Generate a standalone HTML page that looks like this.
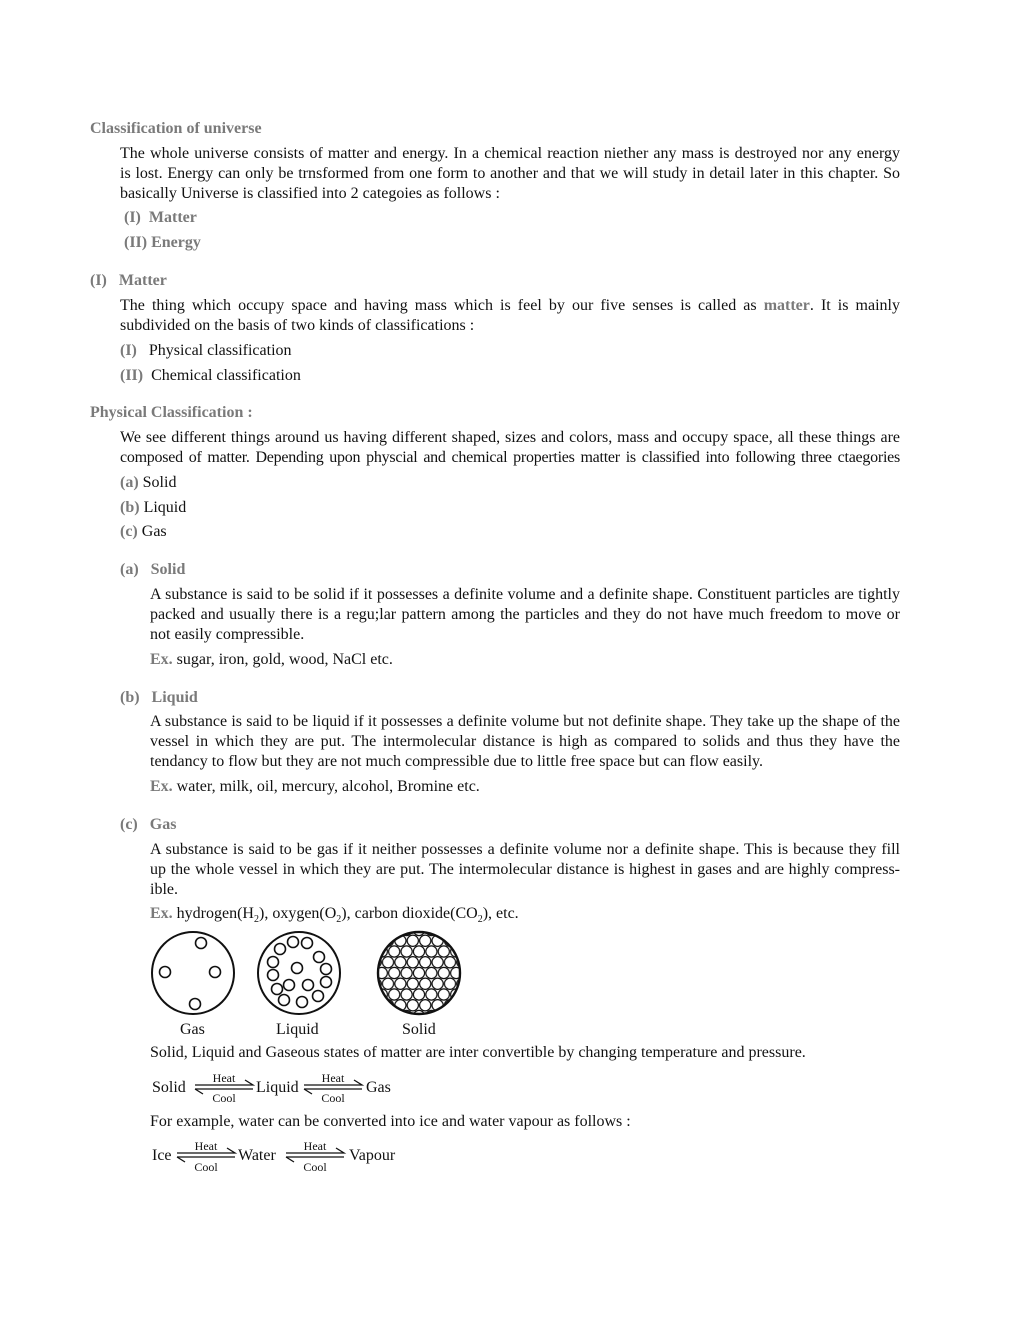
<!DOCTYPE html>
<html><head><meta charset="utf-8">
<style>
html,body{margin:0;padding:0;background:#fff;}
body{width:1020px;height:1320px;position:relative;font-family:"Liberation Serif",serif;font-size:16px;color:#111;}
.l{position:absolute;white-space:nowrap;line-height:20px;margin-top:2px;}
.jj{position:absolute;line-height:20px;text-align:justify;text-align-last:justify;margin-top:2px;}
.g{color:#7a7a7a;font-weight:bold;}
sub{font-size:10px;line-height:0;}
</style></head><body>
<div class="l g" style="left:90px;top:117px">Classification of universe</div>
<div class="jj" style="left:120px;top:142px;width:780px">The whole universe consists of matter and energy. In a chemical reaction niether any mass is destroyed nor any energy</div>
<div class="jj" style="left:120px;top:162px;width:780px">is lost. Energy can only be trnsformed from one form to another and that we will study in detail later in this chapter. So</div>
<div class="l" style="left:120px;top:182px">basically Universe is classified into 2 categoies as follows :</div>
<div class="l g" style="left:124px;top:206px">(I)&nbsp; Matter</div>
<div class="l g" style="left:124px;top:231px">(II) Energy</div>

<div class="l g" style="left:90px;top:269px">(I)&nbsp;&nbsp; Matter</div>
<div class="jj" style="left:120px;top:294px;width:780px">The thing which occupy space and having mass which is feel by our five senses is called as <span class="g">matter</span>. It is mainly</div>
<div class="l" style="left:120px;top:314px">subdivided on the basis of two kinds of classifications :</div>
<div class="l" style="left:120px;top:339px"><span class="g">(I)</span>&nbsp;&nbsp; Physical classification</div>
<div class="l" style="left:120px;top:364px"><span class="g">(II)</span>&nbsp; Chemical classification</div>

<div class="l g" style="left:90px;top:401px">Physical Classification :</div>
<div class="jj" style="left:120px;top:426px;width:780px">We see different things around us having different shaped, sizes and colors, mass and occupy space, all these things are</div>
<div class="jj" style="left:120px;top:446px;width:780px;letter-spacing:-0.25px">composed of matter. Depending upon physcial and chemical properties matter is classified into following three ctaegories</div>
<div class="l" style="left:120px;top:471px"><span class="g">(a)</span> Solid</div>
<div class="l" style="left:120px;top:496px"><span class="g">(b)</span> Liquid</div>
<div class="l" style="left:120px;top:520px"><span class="g">(c)</span> Gas</div>

<div class="l g" style="left:120px;top:558px">(a)&nbsp;&nbsp; Solid</div>
<div class="jj" style="left:150px;top:583px;width:750px">A substance is said to be solid if it possesses a definite volume and a definite shape. Constituent particles are tightly</div>
<div class="jj" style="left:150px;top:603px;width:750px">packed and usually there is a regu;lar pattern among the particles and they do not have much freedom to move or</div>
<div class="l" style="left:150px;top:623px">not easily compressible.</div>
<div class="l" style="left:150px;top:648px"><span class="g">Ex.</span> sugar, iron, gold, wood, NaCl etc.</div>

<div class="l g" style="left:120px;top:686px">(b)&nbsp;&nbsp; Liquid</div>
<div class="jj" style="left:150px;top:710px;width:750px">A substance is said to be liquid if it possesses a definite volume but not definite shape. They take up the shape of the</div>
<div class="jj" style="left:150px;top:730px;width:750px">vessel in which they are put. The intermolecular distance is high as compared to solids and thus they have the</div>
<div class="l" style="left:150px;top:750px">tendancy to flow but they are not much compressible due to little free space but can flow easily.</div>
<div class="l" style="left:150px;top:775px"><span class="g">Ex.</span> water, milk, oil, mercury, alcohol, Bromine etc.</div>

<div class="l g" style="left:120px;top:813px">(c)&nbsp;&nbsp; Gas</div>
<div class="jj" style="left:150px;top:838px;width:750px">A substance is said to be gas if it neither possesses a definite volume nor a definite shape. This is because they fill</div>
<div class="jj" style="left:150px;top:858px;width:750px">up the whole vessel in which they are put. The intermolecular distance is highest in gases and are highly compress-</div>
<div class="l" style="left:150px;top:878px">ible.</div>
<div class="l" style="left:150px;top:902px"><span class="g">Ex.</span> hydrogen(H<sub>2</sub>), oxygen(O<sub>2</sub>), carbon dioxide(CO<sub>2</sub>), etc.</div>

<svg style="position:absolute;left:0;top:0" width="1020" height="1320">
<defs>
<pattern id="hex" x="419" y="973" width="12.4" height="21.5" patternUnits="userSpaceOnUse">
<circle cx="0" cy="0" r="5.6" fill="#fff" stroke="#111" stroke-width="1.2"/>
<circle cx="12.4" cy="0" r="5.6" fill="#fff" stroke="#111" stroke-width="1.2"/>
<circle cx="0" cy="21.5" r="5.6" fill="#fff" stroke="#111" stroke-width="1.2"/>
<circle cx="12.4" cy="21.5" r="5.6" fill="#fff" stroke="#111" stroke-width="1.2"/>
<circle cx="6.2" cy="10.75" r="5.6" fill="#fff" stroke="#111" stroke-width="1.2"/>
</pattern>
<clipPath id="cp"><circle cx="419" cy="973" r="40"/></clipPath>
</defs>
<g fill="none" stroke="#111" stroke-width="2">
<circle cx="193" cy="973" r="41"/>
<circle cx="299" cy="973" r="41"/>
</g>
<g fill="none" stroke="#111" stroke-width="1.6">
<circle cx="201" cy="943" r="5.5"/><circle cx="165" cy="972" r="5.5"/><circle cx="215" cy="972" r="5.5"/><circle cx="195" cy="1004" r="5.5"/>
<circle cx="293" cy="942" r="5.5"/><circle cx="307" cy="943" r="5.5"/><circle cx="280" cy="949" r="5.5"/><circle cx="319" cy="957" r="5.5"/>
<circle cx="273" cy="962" r="5.5"/><circle cx="297" cy="968" r="5.5"/><circle cx="326" cy="969" r="5.5"/><circle cx="273" cy="975" r="5.5"/>
<circle cx="289" cy="985" r="5.5"/><circle cx="308" cy="985" r="5.5"/><circle cx="326" cy="982" r="5.5"/><circle cx="277" cy="989" r="5.5"/>
<circle cx="284" cy="1000" r="5.5"/><circle cx="302" cy="1002" r="5.5"/><circle cx="318" cy="996" r="5.5"/>
</g>
<rect x="375" y="929" width="90" height="90" fill="url(#hex)" clip-path="url(#cp)"/>
<circle cx="419" cy="973" r="41" fill="none" stroke="#111" stroke-width="2.4"/>
<g stroke="#111" stroke-width="1.3" fill="none">
<path d="M195 1085 H253 L245 1080"/><path d="M195 1089 H253"/><path d="M195 1089 L203 1094"/>
<path d="M304 1085 H362 L354 1080"/><path d="M304 1089 H362"/><path d="M304 1089 L312 1094"/>
<path d="M177 1153 H235 L227 1148"/><path d="M177 1157 H235"/><path d="M177 1157 L185 1162"/>
<path d="M286 1153 H344 L336 1148"/><path d="M286 1157 H344"/><path d="M286 1157 L294 1162"/>
</g>
<g font-family="Liberation Serif, serif" font-size="12" fill="#111" text-anchor="middle">
<text x="224" y="1082">Heat</text><text x="224" y="1102">Cool</text>
<text x="333" y="1082">Heat</text><text x="333" y="1102">Cool</text>
<text x="206" y="1150">Heat</text><text x="206" y="1171">Cool</text>
<text x="315" y="1150">Heat</text><text x="315" y="1171">Cool</text>
</g>
</svg>
<div class="l" style="left:180px;top:1018px">Gas</div>
<div class="l" style="left:276px;top:1018px">Liquid</div>
<div class="l" style="left:402px;top:1018px">Solid</div>
<div class="l" style="left:150px;top:1041px">Solid, Liquid and Gaseous states of matter are inter convertible by changing temperature and pressure.</div>
<div class="l" style="left:152px;top:1076px">Solid</div>
<div class="l" style="left:256px;top:1076px">Liquid</div>
<div class="l" style="left:366px;top:1076px">Gas</div>
<div class="l" style="left:150px;top:1110px">For example, water can be converted into ice and water vapour as follows :</div>
<div class="l" style="left:152px;top:1144px">Ice</div>
<div class="l" style="left:238px;top:1144px">Water</div>
<div class="l" style="left:349px;top:1144px">Vapour</div>
</body></html>
